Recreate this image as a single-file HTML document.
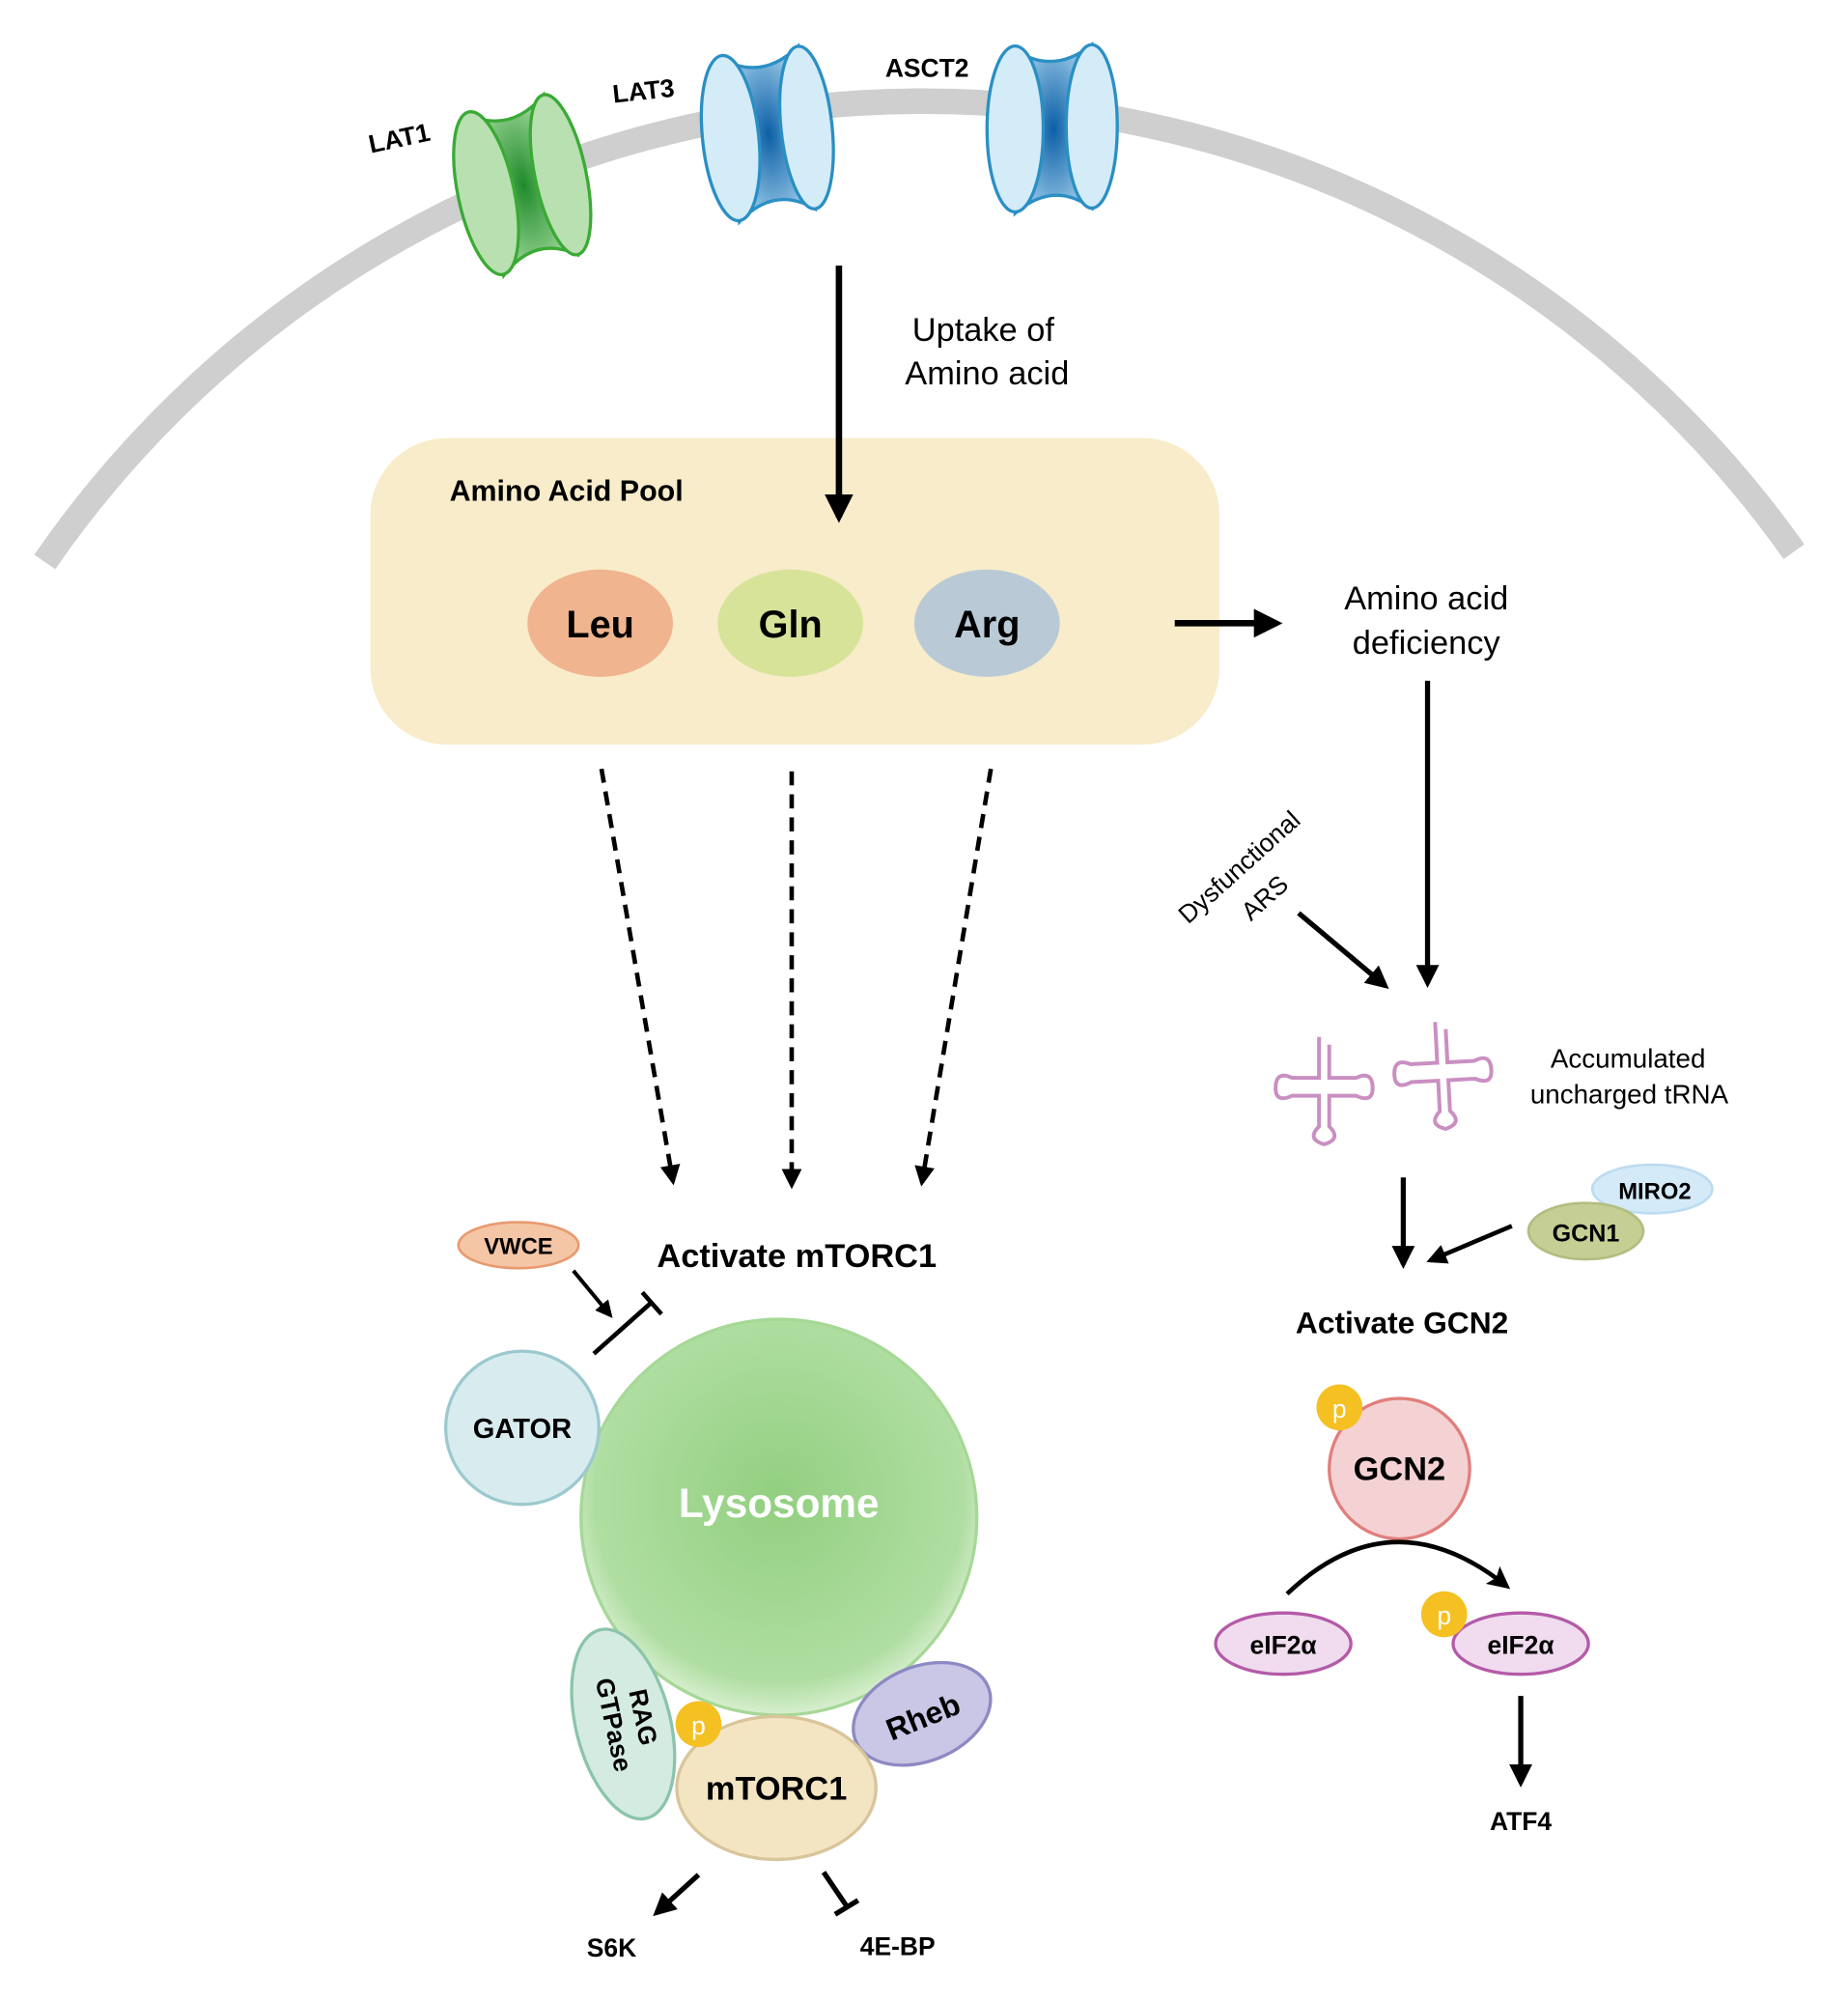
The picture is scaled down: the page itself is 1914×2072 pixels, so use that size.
<!DOCTYPE html>
<html><head><meta charset="utf-8"><style>
html,body{margin:0;padding:0;background:#fff}
svg{display:block}
text{font-family:"Liberation Sans",Arial,sans-serif}
.b{font-weight:bold}
</style></head><body>
<svg width="1914" height="2072" viewBox="0 0 1440 1559" xmlns="http://www.w3.org/2000/svg">
<defs>
<radialGradient id="gg" cx="0.5" cy="0.5" r="0.6"><stop offset="0" stop-color="#1f8a2a"/><stop offset="1" stop-color="#a6dca0"/></radialGradient>
<radialGradient id="bg" cx="0.5" cy="0.5" r="0.6"><stop offset="0" stop-color="#0b5fa6"/><stop offset="1" stop-color="#a8d4ef"/></radialGradient>
<radialGradient id="ly" cx="0.5" cy="0.45" r="0.55"><stop offset="0" stop-color="#92cf80"/><stop offset="0.85" stop-color="#b0dea2"/><stop offset="1" stop-color="#d8efd0"/></radialGradient>
<marker id="ah" viewBox="0 0 10 10" refX="8" refY="5" markerWidth="4.5" markerHeight="4.5" orient="auto"><path d="M0,0 L10,5 L0,10 Z" fill="#000"/></marker>
<marker id="ahs" viewBox="0 0 10 10" refX="8" refY="5" markerWidth="5" markerHeight="5" orient="auto"><path d="M0,0 L10,5 L0,10 L2,5 Z" fill="#000"/></marker>
<g id="trG">
<path d="M-30,-62 Q0,-42 30,-66 L30,62 Q0,40 -30,66 Z" fill="url(#gg)" stroke="#3aaa35" stroke-width="2.5"/>
<ellipse cx="-30" cy="0" rx="22" ry="65" fill="#b8e0b0" stroke="#3aaa35" stroke-width="2.5"/>
<ellipse cx="30" cy="-2" rx="20" ry="64" fill="#b8e0b0" stroke="#3aaa35" stroke-width="2.5"/>
</g>
<g id="trB">
<path d="M-30,-62 Q0,-42 30,-66 L30,62 Q0,40 -30,66 Z" fill="url(#bg)" stroke="#2a8fc4" stroke-width="2.5"/>
<ellipse cx="-30" cy="0" rx="22" ry="65" fill="#d4ecf8" stroke="#2a8fc4" stroke-width="2.5"/>
<ellipse cx="30" cy="-2" rx="20" ry="64" fill="#d4ecf8" stroke="#2a8fc4" stroke-width="2.5"/>
</g>
<g id="trna" fill="none" stroke="#c98fc2" stroke-width="3">
<path d="M-4,-40 L-4,-8 L-25,-8 Q-38,-14 -38,0 Q-38,12 -25,6 L-4,6 L-4,30 Q-14,40 0,44 Q14,40 4,30 L4,6 L25,6 Q38,12 38,0 Q38,-14 25,-8 L4,-8 L4,-34"/>
</g>
</defs>
<g transform="scale(0.995)">
<path d="M35,440 A836,836 0 0 1 1405,432" fill="none" stroke="#cfcfcf" stroke-width="20"/>

<use href="#trG" transform="translate(410,145) rotate(-12)"/>
<use href="#trB" transform="translate(602,105) rotate(-6)"/>
<use href="#trB" transform="translate(825,101)"/>
<text x="313" y="115" class="b" font-size="20" transform="rotate(-12 313 110)" text-anchor="middle">LAT1</text>
<text x="504" y="78" class="b" font-size="20" transform="rotate(-6 504 72)" text-anchor="middle">LAT3</text>
<text x="726" y="60" class="b" font-size="20" text-anchor="middle">ASCT2</text>

<rect x="290" y="343" width="665" height="240" rx="60" fill="#f8ecca"/>
<text x="352" y="392" class="b" font-size="23">Amino Acid Pool</text>
<ellipse cx="470" cy="488" rx="57" ry="42" fill="#f0b48e"/>
<ellipse cx="619" cy="488" rx="57" ry="42" fill="#d8e39a"/>
<ellipse cx="773" cy="488" rx="57" ry="42" fill="#b9cad6"/>
<text x="470" y="499" class="b" font-size="30" text-anchor="middle">Leu</text>
<text x="619" y="499" class="b" font-size="30" text-anchor="middle">Gln</text>
<text x="773" y="499" class="b" font-size="30" text-anchor="middle">Arg</text>

<line x1="657" y1="208" x2="657" y2="405" stroke="#000" stroke-width="5" marker-end="url(#ah)"/>
<text x="770" y="267" font-size="26" text-anchor="middle">Uptake of</text>
<text x="773" y="301" font-size="26" text-anchor="middle">Amino acid</text>

<line x1="920" y1="488" x2="1000" y2="488" stroke="#000" stroke-width="5" marker-end="url(#ah)"/>
<text x="1117" y="477" font-size="26" text-anchor="middle">Amino acid</text>
<text x="1117" y="512" font-size="26" text-anchor="middle">deficiency</text>
<line x1="1118" y1="533" x2="1118" y2="770" stroke="#000" stroke-width="4" marker-end="url(#ah)"/>
<text x="975" y="684" font-size="20" text-anchor="middle" transform="rotate(-42 975 684)">Dysfunctional</text>
<text x="995" y="708" font-size="20" text-anchor="middle" transform="rotate(-42 995 708)">ARS</text>
<line x1="1017" y1="715" x2="1085" y2="772" stroke="#000" stroke-width="4" marker-end="url(#ah)"/>

<use href="#trna" transform="translate(1037,852)"/>
<use href="#trna" transform="translate(1130,840) rotate(-3)"/>
<text x="1275" y="836" font-size="21" text-anchor="middle">Accumulated</text>
<text x="1276" y="864" font-size="21" text-anchor="middle">uncharged tRNA</text>

<line x1="1099" y1="922" x2="1099" y2="990" stroke="#000" stroke-width="4" marker-end="url(#ah)"/>
<ellipse cx="1294" cy="931" rx="47" ry="19" fill="#d4eaf8" stroke="#bcdcf0" stroke-width="2"/>
<text x="1296" y="939" class="b" font-size="18" text-anchor="middle">MIRO2</text>
<ellipse cx="1242" cy="964" rx="45" ry="22" fill="#c5cf94" stroke="#b2bd80" stroke-width="2"/>
<text x="1242" y="972" class="b" font-size="19" text-anchor="middle">GCN1</text>
<line x1="1184" y1="960" x2="1120" y2="987" stroke="#000" stroke-width="3.5" marker-end="url(#ah)"/>
<text x="1098" y="1044" class="b" font-size="24" text-anchor="middle">Activate GCN2</text>

<circle cx="1096" cy="1150" r="55" fill="#f4d2d4" stroke="#e07f7c" stroke-width="2.5"/>
<text x="1096" y="1159" class="b" font-size="26" text-anchor="middle">GCN2</text>
<circle cx="1049" cy="1102" r="18" fill="#f5c022"/>
<text x="1049" y="1110" font-size="20" fill="#fff" text-anchor="middle">p</text>
<path d="M1008,1248 Q1090,1170 1180,1242" fill="none" stroke="#000" stroke-width="3.5" marker-end="url(#ahs)"/>
<ellipse cx="1005" cy="1287" rx="53" ry="24" fill="#f0dcee" stroke="#b45aa8" stroke-width="2.5"/>
<text x="1005" y="1295" class="b" font-size="20" text-anchor="middle">eIF2α</text>
<ellipse cx="1191" cy="1287" rx="53" ry="24" fill="#f0dcee" stroke="#b45aa8" stroke-width="2.5"/>
<text x="1191" y="1295" class="b" font-size="20" text-anchor="middle">eIF2α</text>
<circle cx="1131" cy="1264" r="18" fill="#f5c022"/>
<text x="1131" y="1272" font-size="20" fill="#fff" text-anchor="middle">p</text>
<line x1="1191" y1="1328" x2="1191" y2="1396" stroke="#000" stroke-width="4" marker-end="url(#ah)"/>
<text x="1191" y="1433" class="b" font-size="20" text-anchor="middle">ATF4</text>

<g stroke="#000" stroke-width="3.5" stroke-dasharray="11,7" fill="none">
<line x1="471" y1="602" x2="527" y2="925" marker-end="url(#ah)"/>
<line x1="620" y1="604" x2="620" y2="928" marker-end="url(#ah)"/>
<line x1="776" y1="602" x2="722" y2="926" marker-end="url(#ah)"/>
</g>
<text x="624" y="992" class="b" font-size="26" text-anchor="middle">Activate mTORC1</text>

<ellipse cx="406" cy="975" rx="47" ry="18" fill="#f4c6a6" stroke="#e89a70" stroke-width="2"/>
<text x="406" y="982" class="b" font-size="18" text-anchor="middle">VWCE</text>
<line x1="449" y1="995" x2="478" y2="1030" stroke="#000" stroke-width="3" marker-end="url(#ah)"/>
<line x1="465" y1="1060" x2="510" y2="1020" stroke="#000" stroke-width="3.5"/>
<line x1="503" y1="1012" x2="518" y2="1029" stroke="#000" stroke-width="3.5"/>

<circle cx="610" cy="1188" r="155" fill="url(#ly)" stroke="#a6d897" stroke-width="2.5"/>
<text x="610" y="1188" class="b" font-size="32" fill="#fff" text-anchor="middle">Lysosome</text>
<circle cx="409" cy="1118" r="60" fill="#d8ecf0" stroke="#9cc9cf" stroke-width="2.5"/>
<text x="409" y="1126" class="b" font-size="22" text-anchor="middle">GATOR</text>

<ellipse cx="488" cy="1350" rx="37" ry="76" fill="#d4ebe2" stroke="#8bc4ab" stroke-width="2.5" transform="rotate(-14 488 1350)"/>
<text x="0" y="0" class="b" font-size="20" text-anchor="middle" transform="translate(497,1346) rotate(78)">RAG</text>
<text x="0" y="0" class="b" font-size="20" text-anchor="middle" transform="translate(474,1352) rotate(78)">GTPase</text>
<ellipse cx="722" cy="1342" rx="56" ry="37" fill="#c9c6e6" stroke="#8d89c4" stroke-width="2.5" transform="rotate(-22 722 1342)"/>
<text x="0" y="0" class="b" font-size="24" text-anchor="middle" transform="translate(726,1352) rotate(-22)">Rheb</text>
<ellipse cx="608" cy="1400" rx="78" ry="56" fill="#f4e5c2" stroke="#d8c59a" stroke-width="2.5"/>
<text x="608" y="1409" class="b" font-size="26" text-anchor="middle">mTORC1</text>
<circle cx="547" cy="1350" r="18" fill="#f5c022"/>
<text x="547" y="1358" font-size="20" fill="#fff" text-anchor="middle">p</text>

<line x1="547" y1="1468" x2="514" y2="1498" stroke="#000" stroke-width="4" marker-end="url(#ah)"/>
<line x1="645" y1="1466" x2="664" y2="1494" stroke="#000" stroke-width="4"/>
<line x1="654" y1="1499" x2="672" y2="1488" stroke="#000" stroke-width="4"/>
<text x="479" y="1532" class="b" font-size="20" text-anchor="middle">S6K</text>
<text x="703" y="1531" class="b" font-size="20" text-anchor="middle">4E-BP</text>
</g>
</svg>
</body></html>
